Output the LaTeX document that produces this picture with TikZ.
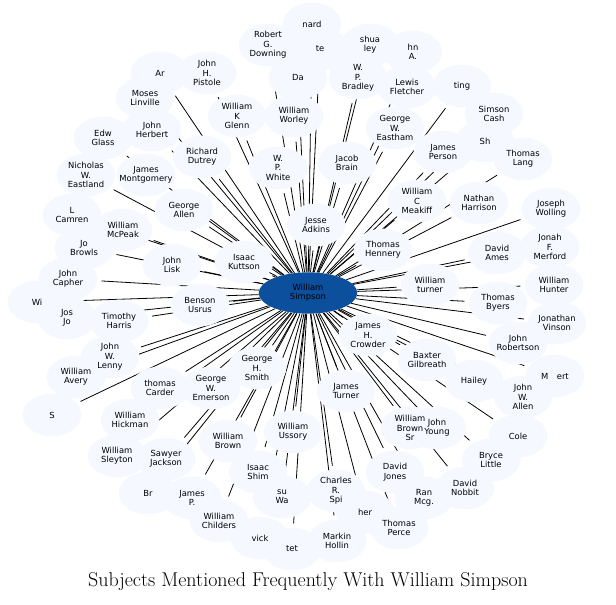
\documentclass[tikz,border=0pt]{standalone}
\usepackage{fontspec}
\newfontfamily\lab{DejaVu Sans}
\usetikzlibrary{shapes.geometric}
\definecolor{pale}{HTML}{F5F9FF}
\definecolor{cen}{HTML}{0C4F9C}
\tikzset{
 bg/.style={ellipse,inner sep=0pt,minimum width=50pt,minimum height=38pt},
 lbl/.style={font=\lab\fontsize{6.3}{7}\selectfont,align=center,inner sep=0pt},
 edge/.style={draw=black,line width=0.6pt}
}
\def\pts{312/24/{nard},268/45/{Robert\\G.\\Downing},320/49/{te},370/45/{shua\\ley},413/52/{hn\\A.},
207/73/{John\\H.\\Pistole},160/73/{Ar},298/78/{Da},358/78/{W.\\P.\\Bradley},407/87/{Lewis\\Fletcher},462/86/{ting},
145/98/{Moses\\Linville},237/116/{William\\K\\Glenn},294/116/{William\\Worley},395/128/{George\\W.\\Eastham},494/114/{Simson\\Cash},
152/130/{John\\Herbert},103/138/{Edw\\Glass},202/157/{Richard\\Dutrey},278/168/{W.\\P.\\White},347/163/{Jacob\\Brain},443/152/{James\\Person},
485/141/{Sh},523/159/{Thomas\\Lang},86/175/{Nicholas\\W.\\Eastland},146/175/{James\\Montgomery},417/201/{William\\C\\Meakiff},
479/203/{Nathan\\Harrison},184/210/{George\\Allen},316/225/{Jesse\\Adkins},551/209/{Joseph\\Wolling},72/215/{L\\Camren},
123/230/{William\\McPeak},383/250/{Thomas\\Hennery},550/247/{Jonah\\F.\\Merford},497/253/{David\\Ames},84/248/{Jo\\Browls},
172/265/{John\\Lisk},244/262/{Isaac\\Kuttson},430/285/{William\\turner},554/285/{William\\Hunter},68/279/{John\\Capher},
200/305/{Benson\\Usrus},498/303/{Thomas\\Byers},37/302/{Wi},67/318/{Jos\\Jo},119/321/{Timothy\\Harris},557/323/{Jonathan\\Vinson},
368/335/{James\\H.\\Crowder},518/343/{John\\Robertson},110/357/{John\\W.\\Lenny},427/360/{Baxter\\Gilbreath},555/376/{M\quad ert},
257/368/{George\\H.\\Smith},76/377/{William\\Avery},160/388/{thomas\\Carder},211/388/{George\\W.\\Emerson},474/381/{Hailey},
346/391/{James\\Turner},523/397/{John\\W.\\Allen},52/415/{S},130/420/{William\\Hickman},410/428/{William\\Brown\\Sr},
437/428/{John\\Young},518/436/{Cole},293/432/{William\\Ussory},228/441/{William\\Brown},166/459/{Sawyer\\Jackson},
117/456/{William\\Sleyton},491/460/{Bryce\\Little},258/472/{Isaac\\Shim},395/472/{David\\Jones},336/491/{Charles\\R.\\Spi},
424/498/{Ran\\Mcg.},465/488/{David\\Nobbit},148/493/{Br},192/498/{James\\P.},282/497/{su\\Wa},219/521/{William\\Childers},
365/512/{her},399/528/{Thomas\\Perce},260/538/{vick},292/549/{tet},337/541/{Markin\\Hollin}}
\begin{document}
\begin{tikzpicture}[x=0.75pt,y=-0.75pt]
\useasboundingbox (0,0) rectangle (616,605);
\foreach \x/\y/\t [count=\i] in \pts { \node[bg] (p\i) at (\x,\y) {}; }
\node[ellipse,inner sep=0pt,minimum width=74pt,minimum height=31pt] (c) at (308,293) {};
\foreach \x/\y/\t [count=\i] in \pts { \draw[edge] (c) -- (p\i); }
\foreach \x/\y/\t [count=\i] in \pts { \fill[pale] (p\i.center) ellipse (22pt and 16pt); }
\fill[cen] (c.center) ellipse (37pt and 15.5pt);
\foreach \x/\y/\t [count=\i] in \pts { \node[lbl] (t\i) at (\x,\y) {\t}; }
\node[lbl] (ct) at (308,293) {William\\Simpson};
\node[font=\fontsize{15}{17}\selectfont] (title) at (308,582) {Subjects Mentioned Frequently With William Simpson};
\end{tikzpicture}
\end{document}
